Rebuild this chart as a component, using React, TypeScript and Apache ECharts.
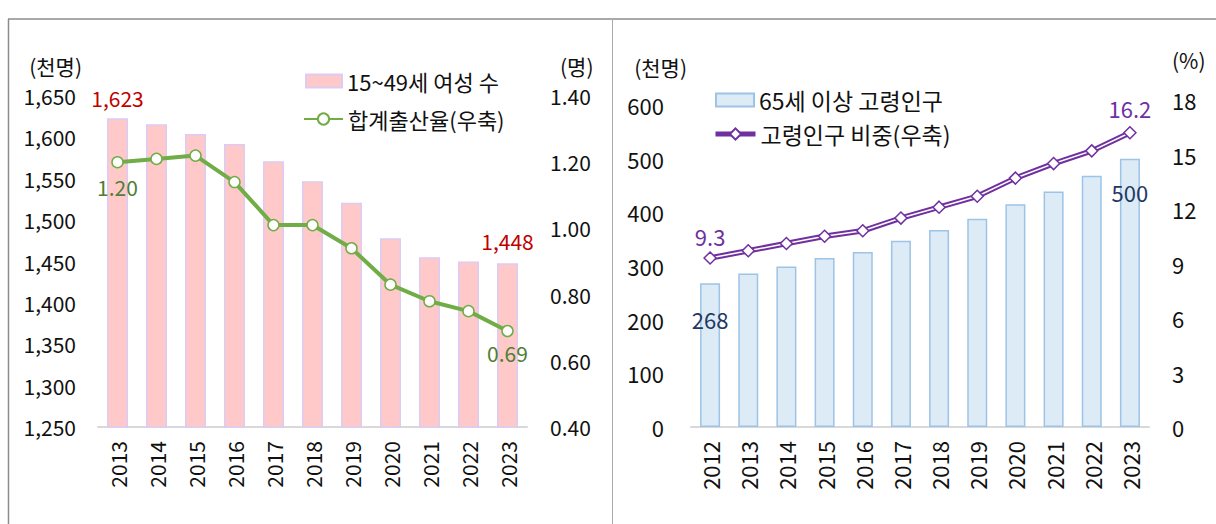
import React, { useEffect, useRef } from "react";
import * as echarts from "echarts";

// ---- Left chart data (15~49세 여성 수, 합계출산율) ----
const leftYears = ["2013", "2014", "2015", "2016", "2017", "2018", "2019", "2020", "2021", "2022", "2023"];
const womenPop = [1623, 1616, 1604, 1592, 1571, 1547, 1521, 1478, 1455, 1450, 1448];
const tfr = [1.2, 1.21, 1.22, 1.14, 1.01, 1.01, 0.94, 0.83, 0.78, 0.75, 0.69];

// ---- Right chart data (65세 이상 고령인구, 고령인구 비중) ----
const rightYears = ["2012", "2013", "2014", "2015", "2016", "2017", "2018", "2019", "2020", "2021", "2022", "2023"];
const elderlyPop = [268, 286, 299, 315, 326, 347, 367, 388, 415, 439, 468, 500];
const elderlyShare = [9.3, 9.7, 10.1, 10.5, 10.8, 11.5, 12.1, 12.7, 13.7, 14.5, 15.2, 16.2];

const leftBarName = "15~49세 여성 수";
const leftLineName = "합계출산율(우축)";
const rightBarName = "65세 이상 고령인구";
const rightLineName = "고령인구 비중(우축)";

const FONT = "'Noto Sans CJK KR', 'Noto Sans', sans-serif";

export default function App() {
  const ref = useRef<HTMLDivElement>(null);

  useEffect(() => {
    document.body.style.margin = "0";
    const chart = echarts.init(ref.current!, null, { renderer: "svg" });

    const lastL = womenPop.length - 1;
    const lastR = elderlyPop.length - 1;

    const tickText = { color: "#111", fontSize: 21, fontFamily: FONT };
    const tickTextR = { color: "#111", fontSize: 22, fontFamily: FONT };
    const nameText = { color: "#111", fontSize: 21, fontFamily: FONT };

    const option: any = {
      animation: false,
      textStyle: { fontFamily: FONT },
      grid: [
        { left: 98, top: 96, width: 429, height: 331 },
        { left: 691, top: 105, width: 458, height: 322 },
        { left: 691, top: 100, width: 458, height: 327 },
      ],
      legend: [
        {
          data: [leftBarName],
          left: 305,
          top: 69,
          padding: 0,
          icon: "rect",
          itemWidth: 36,
          itemHeight: 13,
          itemGap: 5,
          textStyle: { fontSize: 22, color: "#111", fontFamily: FONT, lineHeight: 24 },
        },
        {
          data: [{ name: leftLineName }],
          left: 303,
          top: 107,
          padding: 0,
          itemWidth: 39,
          itemHeight: 14,
          textStyle: { fontSize: 22, color: "#111", fontFamily: FONT, lineHeight: 24 },
        },
        {
          data: [rightBarName],
          left: 715,
          top: 88,
          padding: 0,
          icon: "rect",
          itemWidth: 38,
          itemHeight: 13,
          textStyle: { fontSize: 23, color: "#111", fontFamily: FONT, lineHeight: 24 },
        },
        {
          data: [{ name: rightLineName, lineStyle: { color: "#7030A0", width: 5, opacity: 1 } }],
          left: 713,
          top: 122,
          padding: 0,
          itemWidth: 40,
          itemHeight: 14,
          textStyle: { fontSize: 23, color: "#111", fontFamily: FONT, lineHeight: 24 },
        },
      ],
      xAxis: [
        {
          type: "category",
          gridIndex: 0,
          data: leftYears,
          axisLine: { lineStyle: { color: "#D9D9D9", width: 2 } },
          axisTick: { show: false },
          axisLabel: { ...tickText, rotate: 90, margin: 14 },
        },
        {
          type: "category",
          gridIndex: 1,
          data: rightYears,
          axisLine: { lineStyle: { color: "#D9D9D9", width: 2 } },
          axisTick: { show: false },
          axisLabel: { ...tickTextR, rotate: 90, margin: 14 },
        },
        {
          type: "category",
          gridIndex: 2,
          data: rightYears,
          show: false,
        },
      ],
      yAxis: [
        {
          type: "value",
          gridIndex: 0,
          min: 1250,
          max: 1650,
          interval: 50,
          splitLine: { show: false },
          axisLine: { show: false },
          axisTick: { show: false },
          axisLabel: {
            ...tickText,
            margin: 22,
            formatter: (v: number) => v.toLocaleString("en-US"),
          },
          name: "(천명)",
          nameLocation: "end",
          nameGap: 20,
          nameTextStyle: { ...nameText, align: "right", padding: [0, 16, 0, 0] },
        },
        {
          type: "value",
          gridIndex: 0,
          position: "right",
          min: 0.4,
          max: 1.4,
          interval: 0.2,
          splitLine: { show: false },
          axisLine: { show: false },
          axisTick: { show: false },
          axisLabel: { ...tickText, margin: 23, formatter: (v: number) => v.toFixed(2) },
          name: "(명)",
          nameLocation: "end",
          nameGap: 20,
          nameTextStyle: { ...nameText, align: "left", padding: [0, 0, 0, 33] },
        },
        {
          type: "value",
          gridIndex: 1,
          min: 0,
          max: 600,
          interval: 100,
          splitLine: { show: false },
          axisLine: { show: false },
          axisTick: { show: false },
          axisLabel: { ...tickTextR, margin: 27 },
          name: "(천명)",
          nameLocation: "end",
          nameGap: 28,
          nameTextStyle: { ...nameText, align: "right", padding: [0, 4, 0, 0] },
        },
        {
          type: "value",
          gridIndex: 2,
          position: "right",
          min: 0,
          max: 18,
          interval: 3,
          splitLine: { show: false },
          axisLine: { show: false },
          axisTick: { show: false },
          axisLabel: { ...tickTextR, margin: 23 },
          name: "(%)",
          nameLocation: "end",
          nameGap: 30,
          nameTextStyle: { ...nameText, align: "left", padding: [0, 0, 0, 23] },
        },
      ],
      series: [
        {
          name: leftBarName,
          type: "bar",
          xAxisIndex: 0,
          yAxisIndex: 0,
          barWidth: 21,
          itemStyle: { color: "#FFC9C9", borderColor: "#DCCBF2", borderWidth: 1.5 },
          data: womenPop.map((v, i) =>
            i === 0 || i === lastL
              ? {
                  value: v,
                  label: {
                    show: true,
                    position: "top",
                    distance: i === 0 ? 10 : 12,
                    color: "#C00000",
                    fontSize: 21,
                    fontFamily: FONT,
                    formatter: (p: any) => Number(p.value).toLocaleString("en-US"),
                  },
                }
              : v
          ),
        },
        {
          name: leftLineName,
          type: "line",
          xAxisIndex: 0,
          yAxisIndex: 1,
          symbol: "circle",
          symbolSize: 11,
          lineStyle: { color: "#70AD47", width: 4 },
          itemStyle: { color: "#FFFFFF", borderColor: "#70AD47", borderWidth: 1.5 },
          data: tfr.map((v, i) =>
            i === 0 || i === lastL
              ? {
                  value: v,
                  label: {
                    show: true,
                    position: "bottom",
                    distance: i === 0 ? 8 : 5,
                    color: "#507E32",
                    fontSize: 21,
                    fontFamily: FONT,
                    formatter: (p: any) => Number(p.value).toFixed(2),
                  },
                }
              : v
          ),
        },
        {
          name: rightBarName,
          type: "bar",
          xAxisIndex: 1,
          yAxisIndex: 2,
          barWidth: 20,
          itemStyle: { color: "#DDEBF7", borderColor: "#9DC3E6", borderWidth: 1.5 },
          data: elderlyPop.map((v, i) =>
            i === 0 || i === lastR
              ? {
                  value: v,
                  label: {
                    show: true,
                    position: "insideTop",
                    distance: i === 0 ? 25 : 22,
                    color: "#1F3864",
                    fontSize: 22,
                    fontFamily: FONT,
                  },
                }
              : v
          ),
        },
        {
          name: "outline",
          type: "line",
          xAxisIndex: 2,
          yAxisIndex: 3,
          symbol: "none",
          lineStyle: { color: "#7030A0", width: 5.5 },
          data: elderlyShare,
          z: 3,
        },
        {
          name: "inner",
          type: "line",
          xAxisIndex: 2,
          yAxisIndex: 3,
          symbol: "none",
          lineStyle: { color: "#FFFFFF", width: 1.5 },
          data: elderlyShare,
          z: 4,
        },
        {
          name: rightLineName,
          type: "line",
          xAxisIndex: 2,
          yAxisIndex: 3,
          symbol: "diamond",
          symbolSize: 12,
          lineStyle: { opacity: 0 },
          itemStyle: { color: "#FFFFFF", borderColor: "#7030A0", borderWidth: 1.5 },
          z: 5,
          data: elderlyShare.map((v, i) =>
            i === 0 || i === lastR
              ? {
                  value: v,
                  label: {
                    show: true,
                    position: "top",
                    distance: i === 0 ? 4 : 7,
                    color: "#7030A0",
                    fontSize: 22,
                    fontFamily: FONT,
                    formatter: (p: any) => Number(p.value).toFixed(1),
                  },
                }
              : v
          ),
        },
      ],
      graphic: [
        { type: "line", z: 0, shape: { x1: 8, y1: 19, x2: 1216, y2: 19 }, style: { stroke: "#8C8C8C", lineWidth: 1.5 } },
        { type: "line", z: 0, shape: { x1: 8.5, y1: 19, x2: 8.5, y2: 524 }, style: { stroke: "#8C8C8C", lineWidth: 1.5 } },
        { type: "line", z: 0, shape: { x1: 612.5, y1: 19, x2: 612.5, y2: 524 }, style: { stroke: "#AAAAAA", lineWidth: 1 } },
      ],
    };

    chart.setOption(option);
    return () => chart.dispose();
  }, []);

  return <div ref={ref} style={{ width: 1216, height: 524 }} />;
}
